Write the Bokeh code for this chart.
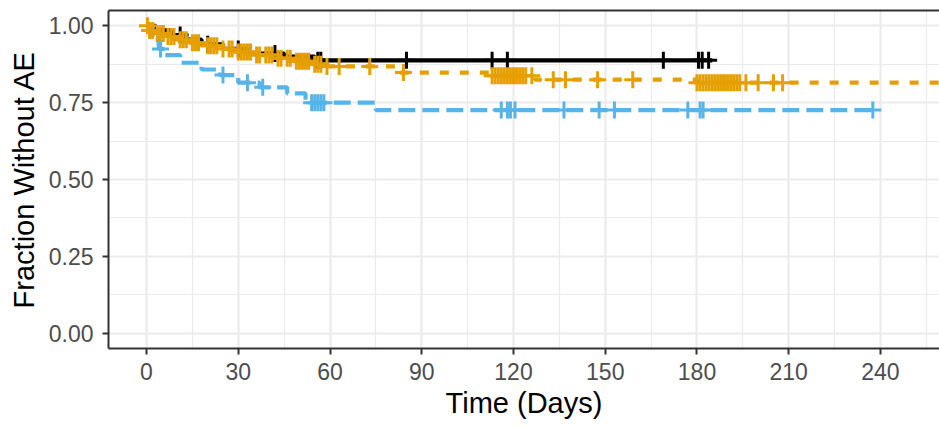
import numpy as np
from bokeh.plotting import figure
from bokeh.models import (ColumnDataSource, Range1d, SingleIntervalTicker, PrintfTickFormatter,
                          LinearAxis, FixedTicker)
from bokeh.embed import file_html
from bokeh.resources import INLINE

# ---- data ----
black_time = [0, 3, 8, 12, 18, 25, 33, 45, 55, 185]
black_surv = [1.0, 0.985, 0.97, 0.955, 0.94, 0.925, 0.91, 0.90, 0.888, 0.888]
black_cens = [11, 20, 30, 42, 56, 57, 85, 113, 118, 169, 180.5, 181.7, 183.8]

orange_time = [0, 0.5, 3, 6, 10, 14, 19, 24, 29, 35, 42, 48, 54, 58, 83, 112, 127, 180, 265]
orange_surv = [1.0, 0.985, 0.975, 0.965, 0.955, 0.945, 0.935, 0.925, 0.915, 0.905, 0.895,
               0.885, 0.875, 0.868, 0.848, 0.838, 0.825, 0.815, 0.815]
orange_cens = [0.3, 1, 2, 3.5, 4.5, 5.5, 7, 8, 9, 11, 12, 13, 15, 16, 17, 20, 21, 22, 23, 25,
               27, 28, 30, 31, 32, 33, 34, 36, 37, 39, 40, 41, 43, 44, 46, 47, 49, 50, 51, 52,
               53, 55, 56, 57, 59, 63, 73, 84, 113, 114, 115, 116, 117, 118, 119, 120, 121,
               122, 123, 124, 126, 133, 137, 147.5, 159, 180, 181, 182, 183, 184, 185, 186,
               187, 188, 189, 190, 191, 192, 193, 194, 196, 200, 205, 208]

blue_time = [0, 2, 4, 6, 11, 18, 24, 30, 37, 46, 52, 75, 238]
blue_surv = [1.0, 0.96, 0.925, 0.905, 0.88, 0.858, 0.84, 0.815, 0.80, 0.78, 0.75, 0.726, 0.726]
blue_cens = [4.6, 25, 33, 38, 54, 55, 56, 57, 58, 116, 118, 119, 120.5, 136.5, 148, 153,
             177, 181, 182, 237.5]

x_ticks = [0, 30, 60, 90, 120, 150, 180, 210, 240]
y_ticks = [0.0, 0.25, 0.5, 0.75, 1.0]

series = [
    ("#000000", black_time, black_surv, black_cens, "solid"),
    ("#E69F00", orange_time, orange_surv, orange_cens, "9 11"),
    ("#56B4E9", blue_time, blue_surv, blue_cens, "17 7"),
]

FONT = "Liberation Sans"

p = figure(width=939, height=427, output_backend="svg", toolbar_location=None,
           x_range=Range1d(-12.43, 259.3), y_range=Range1d(-0.05, 1.05),
           min_border_left=108, min_border_right=0, min_border_top=10, min_border_bottom=79,
           background_fill_color="white", border_fill_color="white")
p.outline_line_color = None

p.xaxis.ticker = SingleIntervalTicker(interval=30, num_minor_ticks=2)
p.yaxis.ticker = SingleIntervalTicker(interval=0.25, num_minor_ticks=2)
p.yaxis.formatter = PrintfTickFormatter(format="%.2f")

for ax in (p.xaxis[0], p.yaxis[0]):
    ax.axis_line_color = "#333333"
    ax.axis_line_width = 2
    ax.major_tick_line_color = "#333333"
    ax.major_tick_line_width = 2
    ax.major_tick_in = 0
    ax.major_tick_out = 6
    ax.minor_tick_line_color = None
    ax.major_label_text_font = FONT
    ax.major_label_text_font_size = "23px"
    ax.major_label_text_color = "#4D4D4D"
    ax.axis_label_text_font = FONT
    ax.axis_label_text_font_size = "29px"
    ax.axis_label_text_font_style = "normal"
    ax.axis_label_text_color = "#000000"

p.xaxis.axis_label = "Time (Days)"
p.yaxis.axis_label = "Fraction Without AE"
p.xaxis.major_label_standoff = 8
p.xaxis.axis_label_standoff = 4
p.yaxis.major_label_standoff = 9
p.yaxis.axis_label_standoff = 6

top = LinearAxis(ticker=FixedTicker(ticks=[]), axis_line_color="#333333", axis_line_width=2,
                 major_tick_line_color=None, minor_tick_line_color=None,
                 major_label_text_font_size="0px")
p.add_layout(top, "above")

for g in (p.xgrid[0], p.ygrid[0]):
    g.grid_line_color = "#EBEBEB"
    g.grid_line_width = 2
    g.minor_grid_line_color = "#EBEBEB"
    g.minor_grid_line_width = 1.2

# lines
for color, t, s, c, dash in series:
    src = ColumnDataSource(dict(t=t, s=s))
    p.step("t", "s", source=src, mode="after", line_color=color, line_width=4.2,
           line_dash=dash)

# censoring marks
for color, t, s, c, dash in series:
    t_arr = np.asarray(t, dtype=float)
    s_arr = np.asarray(s, dtype=float)
    c_arr = np.asarray(c, dtype=float)
    idx = np.searchsorted(t_arr, c_arr, side="right") - 1
    src = ColumnDataSource(dict(t=c_arr, s=s_arr[idx]))
    p.scatter("t", "s", source=src, marker="cross", size=17, line_color=color, line_width=3)

open("out.html", "w").write(file_html(p, INLINE))
